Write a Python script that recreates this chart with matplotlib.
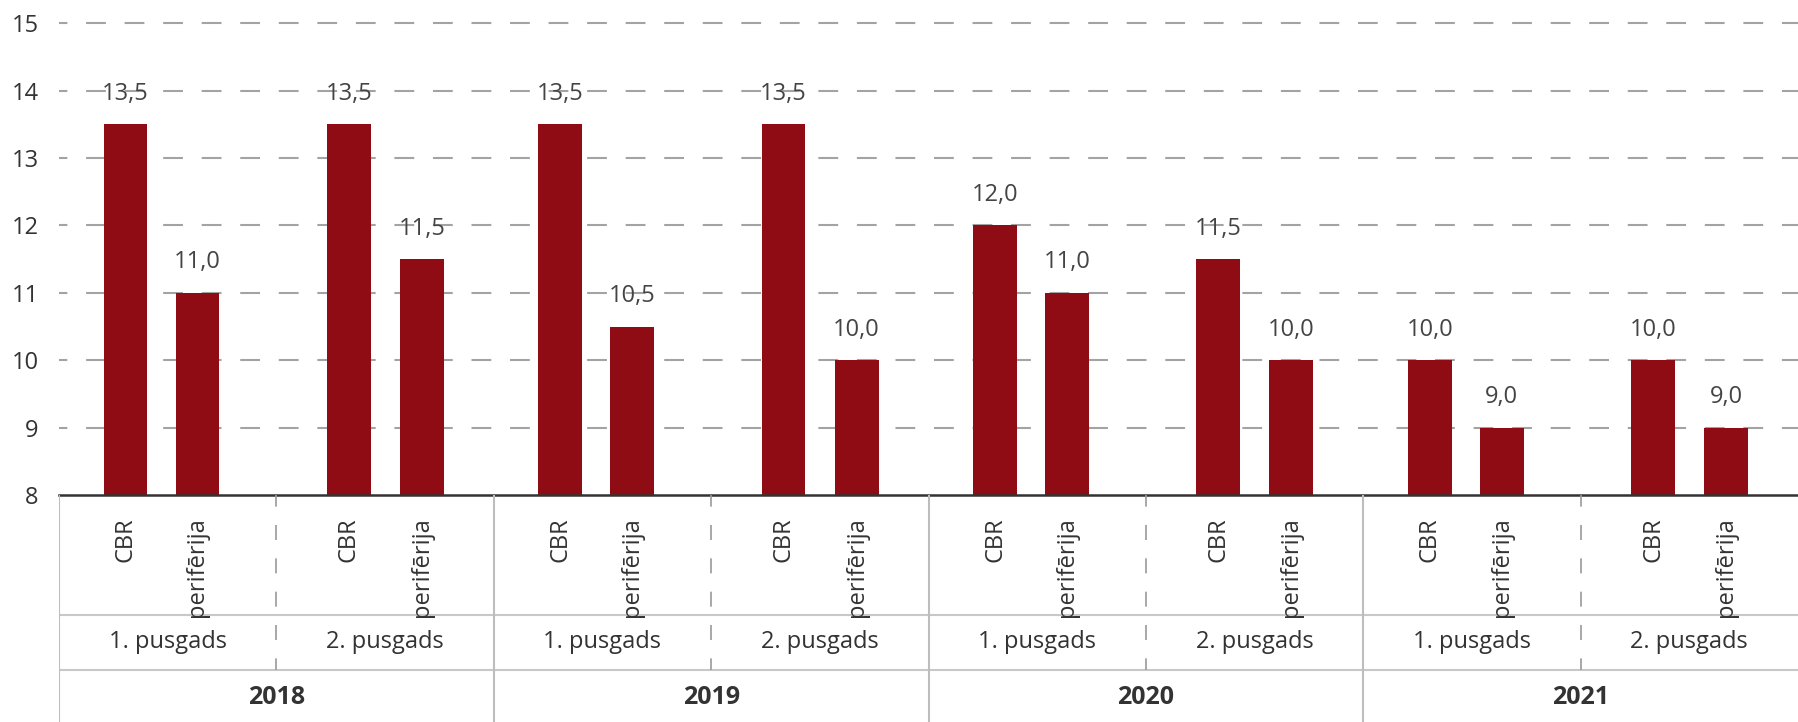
import matplotlib.pyplot as plt
from matplotlib.lines import Line2D

plt.rcParams['font.family'] = ['Open Sans', 'DejaVu Sans']
plt.rcParams['font.weight'] = 'medium'

# -------------------------------
# data
# -------------------------------
years = ["2018", "2019", "2020", "2021"]
halves = ["1. pusgads", "2. pusgads"]
series = ["CBR", "perifērija"]
cbr = [13.5, 13.5, 13.5, 13.5, 12.0, 11.5, 10.0, 10.0]
perif = [11.0, 11.5, 10.5, 10.0, 11.0, 10.0, 9.0, 9.0]

BAR = "#900c14"
TXT = "#333333"
W, H = 1798, 722
left_px, axis_px = 59, 495
unit_px = 67.4

fig = plt.figure(figsize=(W / 100, H / 100), dpi=100)

# -------------------------------
# chart area
# -------------------------------
ax = fig.add_axes([left_px / W, (H - axis_px) / H, 1 - left_px / W, axis_px / H])
ax.set_xlim(0, 8)
ax.set_ylim(8, 8 + axis_px / unit_px)

n = len(cbr)
x_cbr, x_per = [], []
for i in range(n):
    if i % 2 == 0:
        x_cbr.append(i + 0.306)
        x_per.append(i + 0.637)
    else:
        x_cbr.append(i + 0.333)
        x_per.append(i + 0.669)

bw = 0.202
ax.bar(x_cbr, [v - 8 for v in cbr], bottom=8, width=bw, color=BAR, zorder=2)
ax.bar(x_per, [v - 8 for v in perif], bottom=8, width=bw, color=BAR, zorder=2)

for xs, vals in ((x_cbr, cbr), (x_per, perif)):
    for x, v in zip(xs, vals):
        ax.annotate(f"{v:.1f}".replace(".", ","), (x, v), xytext=(0, 22),
                    textcoords="offset points", ha="center", va="center",
                    fontsize=17, color="#444444", zorder=3)

for y in range(9, 16):
    ax.plot([0, 8], [y, y], color="#a3a3a3", lw=1.5,
            linestyle=(5.5, (9.5, 9)), zorder=0)
ax.axhline(8, color=TXT, lw=1.8, zorder=4, clip_on=False)

ax.set_yticks(range(8, 16))
ax.set_yticklabels([str(t) for t in range(8, 16)], fontsize=17, color=TXT)
ax.tick_params(axis="y", length=0, pad=14.5)
ax.set_xticks([])
for s in ax.spines.values():
    s.set_visible(False)

# -------------------------------
# category table below
# -------------------------------
tb = fig.add_axes([left_px / W, 0, 1 - left_px / W, (H - axis_px) / H])
tb.set_xlim(0, 8)
tb.set_ylim(H - axis_px, 0)
tb.axis("off")

row1, row2, bottom = 120, 175, H - axis_px
grey = "#c8c8c8"
tb.add_line(Line2D([0, 8], [row1, row1], color=grey, lw=1.5))
tb.add_line(Line2D([0, 8], [row2, row2], color=grey, lw=1.5))
for xv in (0, 2, 4, 6):
    tb.add_line(Line2D([xv, xv], [0, bottom], color="#bdbdbd", lw=1.5))
for xv in (1, 3, 5, 7):
    tb.add_line(Line2D([xv, xv], [0, row2], color="#9a9a9a", lw=1.2,
                       linestyle=(2, (9, 11))))

for i in range(n):
    tb.text(x_cbr[i], 22, series[0], rotation=90, ha="center", va="top",
            fontsize=17, color=TXT)
    tb.text(x_per[i], 22, series[1], rotation=90, ha="center", va="top",
            fontsize=17, color=TXT)
    tb.text(i + 0.5, (row1 + row2) / 2, halves[i % 2], ha="center", va="center",
            fontsize=17, color=TXT)

for j, yr in enumerate(years):
    tb.text(2 * j + 1, (row2 + bottom) / 2 + 1, yr, ha="center", va="center",
            fontsize=18, fontweight="bold", color=TXT)

fig.savefig("out.png", dpi=100)
